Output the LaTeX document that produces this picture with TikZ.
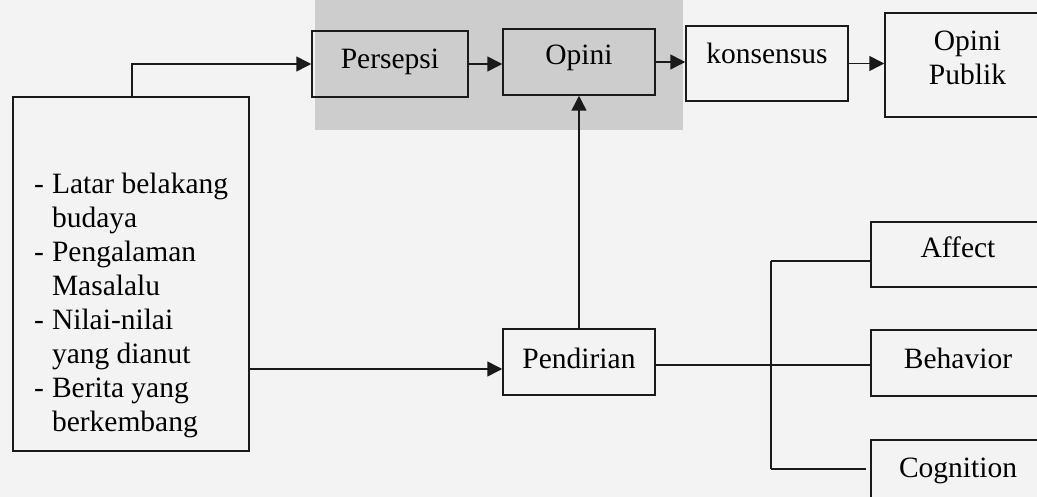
\documentclass[tikz,border=0pt]{standalone}
\usepackage{fontspec}
\setmainfont{LiberationSerif}[Extension=.ttf,UprightFont=*-Regular,BoldFont=*-Bold]
\usetikzlibrary{arrows.meta,calc}
\definecolor{wm}{HTML}{CDCDCD}
\definecolor{bg}{HTML}{F3F3F3}
\definecolor{ink}{HTML}{1A1A1A}
\begin{document}
\begin{tikzpicture}[x=1pt,y=-1pt,
  box/.style={draw=ink,line width=1.5pt,inner sep=0pt,font=\fontsize{29.5}{34}\selectfont},
  sl/.style={text height=19pt},
  arr/.style={draw=ink,line width=1.5pt,-{Triangle[length=15pt,width=15pt]}},
  ln/.style={draw=ink,line width=1.5pt}]
\useasboundingbox (0,0) rectangle (1037,497);
\fill[bg] (0,0) rectangle (1037,497);
\clip (0,0) rectangle (1037,497);
\fill[wm] (315,0) rectangle (683,130);
% top row
\node[box,sl,minimum width=156pt,minimum height=66pt,text depth=9pt] (pers) at (390,64) {Persepsi};
\node[box,sl,minimum width=152pt,minimum height=66pt,text depth=13pt] (opini) at (579,62) {Opini};
\node[box,sl,minimum width=162pt,minimum height=75pt,text depth=18pt] (kons) at (767,63.5) {konsensus};
\node[box,minimum width=165pt,minimum height=104pt,text height=41pt,text depth=37pt] (pub) at (967.5,65) {\begin{tabular}{@{}c@{}}Opini\\Publik\end{tabular}\hspace{25pt}};
% left box
\node[box,minimum width=236pt,minimum height=354pt] (lb) at (131,274) {};
\node[anchor=base west,inner sep=0pt,font=\fontsize{29.5}{34}\selectfont] (lbt) at (34,194)
  {\begin{tabular}[t]{@{}l@{\hspace{8pt}}l@{}}
  -& Latar belakang\\
   & budaya\\
  -& Pengalaman\\
   & Masalalu\\
  -& Nilai-nilai\\
   & yang dianut\\
  -& Berita yang\\
   & berkembang
  \end{tabular}};
% middle / right
\node[box,sl,minimum width=152pt,minimum height=66pt,text depth=7pt] (pend) at (579,362) {Pendirian};
\node[box,sl,minimum width=174pt,minimum height=65pt,text depth=12pt] (aff) at (958,254.5) {Affect};
\node[box,sl,minimum width=174pt,minimum height=66pt,text depth=9pt] (beh) at (958,363) {Behavior};
\node[box,sl,minimum width=174pt,minimum height=61pt,text depth=6pt] (cog) at (958,470.5) {Cognition};
% connectors
\coordinate (s1) at (132,97);
\draw[arr] (s1) |- (pers.west);
\draw[arr] (pers.east) -- (pers.east -| opini.west);
\draw[arr] (opini.east) -- (opini.east -| kons.west);
\draw[arr] (kons.east) -- (kons.east -| pub.west);
\coordinate (s2) at (249,369);
\draw[arr] (s2) -- (s2 -| pend.west);
\draw[arr] (pend.north) -- (opini.south);
\coordinate (j0) at (771,365);
\coordinate (ja) at (771,261);
\coordinate (jc) at (771,469);
\draw[ln] (pend.east |- j0) -- (j0);
\draw[ln] (ja) -- (jc);
\draw[ln] (ja) -- (ja -| aff.west);
\draw[ln] (j0) -- (j0 -| beh.west);
\draw[ln] (jc) -- ([xshift=-4pt]jc -| cog.west);
\end{tikzpicture}
\end{document}
